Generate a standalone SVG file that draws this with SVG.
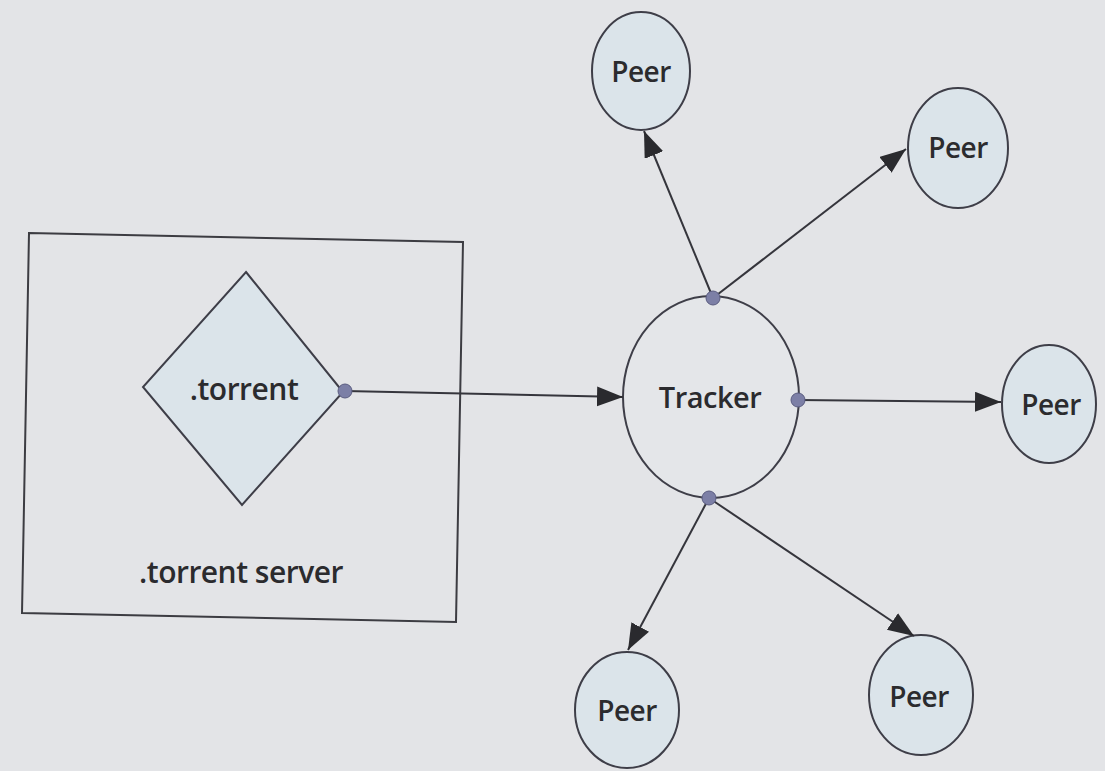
<svg xmlns="http://www.w3.org/2000/svg" width="1105" height="771" viewBox="0 0 1105 771">
  <defs>
    <marker id="arrow" markerUnits="userSpaceOnUse" markerWidth="28" markerHeight="22" refX="26" refY="10" orient="auto">
      <path d="M0,0 L26,10 L0,20 z" fill="#2a2a2e"/>
    </marker>
    <style>
      .bg { fill: #e3e4e7; }
      .frame { fill: none; stroke: #3c3c42; stroke-width: 2; }
      .shape { fill: #dbe4ea; stroke: #3e3e48; stroke-width: 2; }
      .tracker { fill: #e4e6e9; stroke: #3e3e48; stroke-width: 2; }
      .port { fill: #7c7fa6; stroke: #5a5c80; stroke-width: 1; }
      .edge { fill: none; stroke: #35353c; stroke-width: 2; marker-end: url(#arrow); }
      .label { font-family: "Open Sans", "Noto Sans", "Liberation Sans", sans-serif; font-weight: 600; fill: #2b2b2e; text-anchor: middle; letter-spacing: -0.5px; }
    </style>
  </defs>

  <rect class="bg" x="0" y="0" width="1105" height="771"/>

  <!-- .torrent server box with the .torrent file inside -->
  <g id="server">
    <polygon class="frame" points="29,233 463,242 456,622 22,613"/>
    <text class="label" x="241" y="583" font-size="30">.torrent server</text>
  </g>
  <g id="torrent">
    <polygon class="shape" points="246,272 343,392 242,505 143,387"/>
    <text class="label" x="244" y="400" font-size="30">.torrent</text>
  </g>

  <!-- tracker -->
  <g id="tracker">
    <ellipse class="tracker" cx="711" cy="397" rx="88" ry="101"/>
    <text class="label" x="710" y="408" font-size="29">Tracker</text>
  </g>

  <!-- peers -->
  <g id="peer-top-left">
    <ellipse class="shape" cx="641" cy="71" rx="49" ry="59"/>
    <text class="label" x="641" y="82" font-size="28">Peer</text>
  </g>
  <g id="peer-top-right">
    <ellipse class="shape" cx="958" cy="148" rx="50" ry="60"/>
    <text class="label" x="958" y="158" font-size="28">Peer</text>
  </g>
  <g id="peer-right">
    <ellipse class="shape" cx="1049" cy="404" rx="47" ry="59"/>
    <text class="label" x="1051" y="415" font-size="28">Peer</text>
  </g>
  <g id="peer-bottom-left">
    <ellipse class="shape" cx="627" cy="710" rx="52" ry="58"/>
    <text class="label" x="627" y="721" font-size="28">Peer</text>
  </g>
  <g id="peer-bottom-right">
    <ellipse class="shape" cx="921" cy="695" rx="52" ry="60"/>
    <text class="label" x="919" y="707" font-size="28">Peer</text>
  </g>

  <!-- connectors -->
  <g id="connectors">
    <line class="edge" x1="345" y1="391" x2="623" y2="397"/>
    <line class="edge" x1="713" y1="298" x2="644" y2="131"/>
    <line class="edge" x1="713" y1="298" x2="906" y2="149"/>
    <line class="edge" x1="798" y1="400" x2="1001" y2="402"/>
    <line class="edge" x1="709" y1="498" x2="628" y2="650"/>
    <line class="edge" x1="709" y1="498" x2="914" y2="636"/>
    <circle class="port" cx="345" cy="391" r="7"/>
    <circle class="port" cx="713" cy="298" r="7"/>
    <circle class="port" cx="798" cy="400" r="7"/>
    <circle class="port" cx="709" cy="498" r="7"/>
  </g>
</svg>
